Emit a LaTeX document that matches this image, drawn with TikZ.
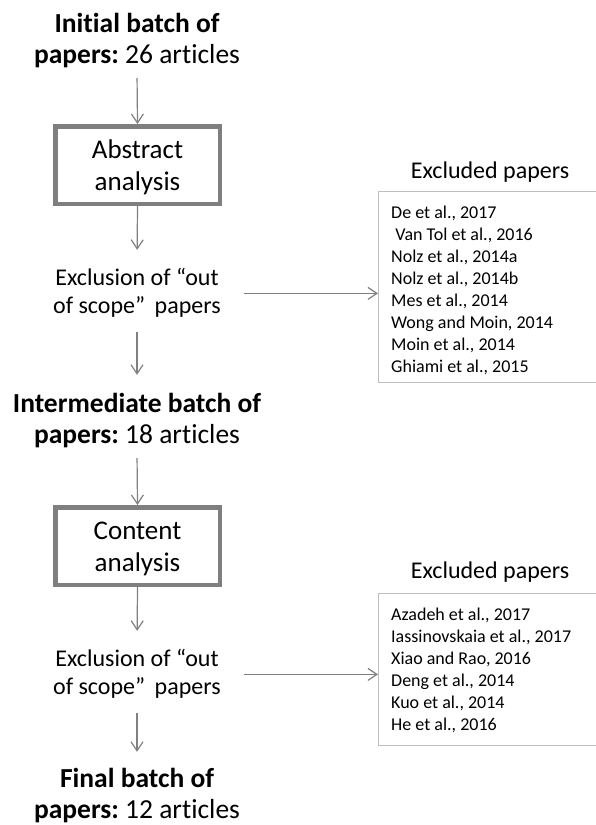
\documentclass[tikz,border=0pt]{standalone}
\usepackage{fontspec}
\setmainfont{Carlito}[Ligatures=NoCommon]
\usetikzlibrary{arrows.meta}
\definecolor{arrgray}{RGB}{128,128,128}
\definecolor{boxgray}{RGB}{127,127,127}
\definecolor{lightbox}{RGB}{191,191,191}
\frenchspacing
\begin{document}
\begin{tikzpicture}[x=1pt,y=-1pt,
  arr/.style={draw=arrgray, line width=1.2pt, -{Straight Barb[length=9pt,width=12pt]}},
  ttl/.style={inner sep=0pt, anchor=base, font=\fontsize{27.5}{31}\selectfont},
  stage/.style={draw=boxgray, line width=4.5pt, minimum width=164.5pt, minimum height=77.5pt, inner sep=0pt, font=\fontsize{27}{32}\selectfont, text depth=36.4pt},
  excl/.style={inner sep=0pt, anchor=base, font=\fontsize{24}{28}\selectfont},
  head/.style={inner sep=0pt, anchor=base, font=\fontsize{24}{29}\selectfont},
  exbox/.style={draw=lightbox, line width=1.2pt, anchor=north west, minimum width=218pt, inner sep=0pt},
  lst/.style={inner sep=0pt, anchor=base west, font=\fontsize{18}{22}\selectfont}
]
\useasboundingbox[fill=white] (0,0) rectangle (596,825);

% left column
\node[ttl] (t1) at (137,32) {\begin{tabular}[t]{@{}c@{}}\textbf{Initial batch of}\\\textbf{papers:} 26 articles\end{tabular}};
\node[stage] (s1) at (137.5,165) {\begin{tabular}[t]{@{}c@{}}Abstract\\analysis\end{tabular}};
\node[excl] (e1) at (137,285) {\begin{tabular}[t]{@{}c@{}}Exclusion of “out\\of scope”\hspace{0.4em}papers\end{tabular}};
\node[ttl] (t2) at (137,412) {\begin{tabular}[t]{@{}c@{}}\textbf{Intermediate batch of}\\\textbf{papers:} 18 articles\end{tabular}};
\node[stage] (s2) at (137.5,546) {\begin{tabular}[t]{@{}c@{}}Content\\analysis\end{tabular}};
\node[excl] (e2) at (137,666) {\begin{tabular}[t]{@{}c@{}}Exclusion of “out\\of scope”\hspace{0.4em}papers\end{tabular}};
\node[ttl] (t3) at (137,787) {\begin{tabular}[t]{@{}c@{}}\textbf{Final batch of}\\\textbf{papers:} 12 articles\end{tabular}};

% right column
\node[head] (h1) at (490,178) {Excluded papers};
\node[exbox, minimum height=191pt] (x1) at (378,191) {};
\node[lst] (l1) at (391,218) {\begin{tabular}[t]{@{}l@{}}De et al., 2017\\\hspace*{0.23em}Van Tol et al., 2016\\Nolz et al., 2014a\\Nolz et al., 2014b\\Mes et al., 2014\\Wong and Moin, 2014\\Moin et al., 2014\\Ghiami et al., 2015\end{tabular}};

\node[head] (h2) at (490,578) {Excluded papers};
\node[exbox, minimum height=152pt] (x2) at (378,593) {};
\node[lst] (l2) at (391,620) {\begin{tabular}[t]{@{}l@{}}Azadeh et al., 2017\\Iassinovskaia et al., 2017\\Xiao and Rao, 2016\\Deng et al., 2014\\Kuo et al., 2014\\He et al., 2016\end{tabular}};

% connectors
\draw[arr, shorten <=5.7pt] (t1.south) -- (s1.north);
\draw[arr, shorten >=15.4pt] (s1.south) -- (e1.north);
\draw[arr, shorten <=10.6pt, shorten >=15.3pt] (e1.south) -- (t2.north);
\draw[arr, shorten <=23pt] (e1.east) -- (e1.east -| x1.west);
\draw[arr, shorten <=5.7pt] (t2.south) -- (s2.north);
\draw[arr, shorten >=15.4pt] (s2.south) -- (e2.north);
\draw[arr, shorten <=10.6pt, shorten >=13.3pt] (e2.south) -- (t3.north);
\draw[arr, shorten <=23pt] (e2.east) -- (e2.east -| x2.west);
\end{tikzpicture}
\end{document}
